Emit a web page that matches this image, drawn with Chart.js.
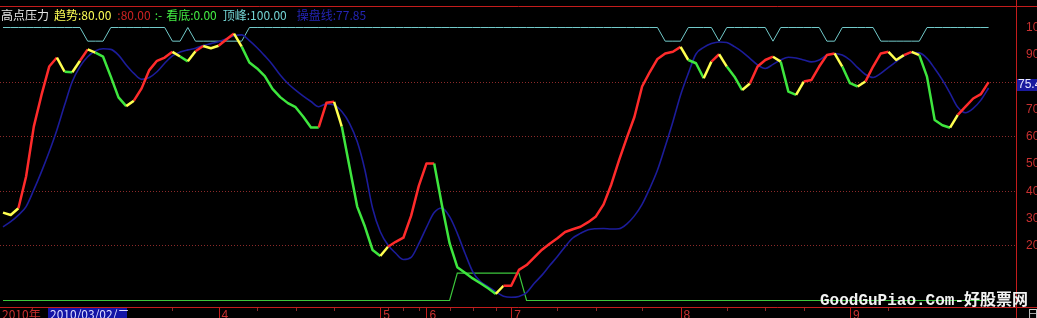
<!DOCTYPE html>
<html>
<head>
<meta charset="utf-8">
<script src="https://cdn.jsdelivr.net/npm/chart.js@4/dist/chart.umd.min.js"></script>
<style>
  html, body { margin: 0; padding: 0; background: #000; overflow: hidden; }
  canvas { display: block; }
</style>
</head>
<body>
<canvas id="gaodianChart" width="1037" height="318"></canvas>
<script>
// 趋势线 (每根K线一个值)
const trend = [
  32.2, 31.3, 33.8, 45.4, 63.7, 75.3, 85.7, 89.0, 83.8, 83.6,
  87.8, 92.0, 90.8, 89.3, 82.0, 74.4, 71.2, 73.2, 77.7, 84.4,
  87.8, 89.0, 91.1, 89.4, 87.6, 91.3, 93.2, 92.4, 93.3, 95.6,
  97.8, 93.0, 87.2, 85.0, 82.2, 77.5, 74.5, 72.3, 70.8, 67.3,
  63.4, 63.4, 72.4, 72.8, 63.7, 49.0, 34.4, 27.1, 18.5, 16.3,
  19.7, 21.5, 23.0, 31.0, 42.0, 50.2, 50.2, 35.0, 21.0, 12.2,
  10.2, 8.1, 6.3, 4.5, 2.4, 5.4, 5.4, 11.2, 13.0, 15.8,
  18.6, 20.8, 22.8, 25.1, 26.1, 27.0, 28.7, 30.8, 35.2, 42.5,
  51.3, 59.5, 67.2, 78.4, 83.7, 88.5, 90.5, 91.1, 92.9, 88.1,
  86.9, 81.4, 87.5, 90.2, 85.7, 82.0, 77.1, 79.5, 85.7, 88.1,
  89.3, 87.5, 76.5, 75.3, 80.2, 80.8, 85.7, 89.9, 90.5, 85.7,
  79.6, 78.4, 80.2, 85.7, 90.5, 91.1, 88.1, 89.9, 91.1, 89.9,
  82.0, 66.1, 64.2, 63.3, 68.0, 71.0, 74.0, 75.6, 80.0
];

// 操盘线
const caopan = [
  27.0, 28.9, 31.3, 34.4, 40.5, 47.2, 54.5, 62.5, 71.6, 80.2,
  85.7, 89.3, 91.4, 92.2, 92.0, 89.9, 86.3, 83.2, 81.0, 81.7,
  83.8, 86.9, 89.6, 91.0, 91.8, 92.4, 93.4, 94.1, 94.8, 95.9,
  97.0, 97.3, 95.2, 92.6, 89.6, 86.4, 82.6, 79.5, 77.1, 74.9,
  72.9, 71.0, 72.0, 71.6, 69.2, 64.9, 58.2, 47.8, 33.8, 25.2,
  20.3, 17.3, 15.0, 15.8, 20.8, 26.8, 32.2, 33.9, 30.7, 24.6,
  17.3, 10.6, 6.9, 5.1, 3.2, 1.6, 1.2, 1.5, 2.9, 6.3,
  9.3, 12.8, 16.1, 19.7, 22.9, 24.6, 25.9, 26.3, 26.4, 26.2,
  26.3, 28.0, 31.0, 35.2, 41.1, 47.8, 56.4, 65.5, 75.3, 83.2,
  90.3, 92.7, 94.1, 94.7, 94.5, 93.0, 91.1, 88.7, 86.3, 85.0,
  86.5, 88.1, 89.1, 88.8, 88.1, 87.4, 88.1, 89.9, 90.5, 89.9,
  88.1, 85.3, 82.8, 81.7, 83.2, 85.4, 87.5, 89.6, 90.8, 90.7,
  88.7, 85.0, 80.8, 75.9, 70.8, 68.8, 70.4, 73.4, 77.85
];

// 顶峰
const dingfeng = [
  100, 100, 100, 100, 100, 100, 100, 100, 100, 100,
  100, 95, 95, 95, 100, 100, 100, 100, 100, 100,
  100, 100, 95, 95, 100, 95, 95, 95, 95, 95,
  95, 95, 100, 100, 100, 100, 100, 100, 100, 100,
  100, 100, 100, 100, 100, 100, 100, 100, 100, 100,
  100, 100, 100, 100, 100, 100, 100, 100, 100, 100,
  100, 100, 100, 100, 100, 100, 100, 100, 100, 100,
  100, 100, 100, 100, 100, 100, 100, 100, 100, 100,
  100, 100, 100, 100, 100, 100, 95, 95, 95, 100,
  100, 100, 100, 95, 100, 100, 100, 100, 100, 100,
  95, 100, 100, 100, 100, 100, 100, 95, 95, 100,
  100, 100, 100, 100, 95, 95, 95, 95, 95, 95,
  100, 100, 100, 100, 100, 100, 100, 100, 100
];

// 看底
const kandi = [
  0, 0, 0, 0, 0, 0, 0, 0, 0, 0,
  0, 0, 0, 0, 0, 0, 0, 0, 0, 0,
  0, 0, 0, 0, 0, 0, 0, 0, 0, 0,
  0, 0, 0, 0, 0, 0, 0, 0, 0, 0,
  0, 0, 0, 0, 0, 0, 0, 0, 0, 0,
  0, 0, 0, 0, 0, 0, 0, 0, 0, 10,
  10, 10, 10, 10, 10, 10, 10, 10, 0, 0,
  0, 0, 0, 0, 0, 0, 0, 0, 0, 0,
  0, 0, 0, 0, 0, 0, 0, 0, 0, 0,
  0, 0, 0, 0, 0, 0, 0, 0, 0, 0,
  0, 0, 0, 0, 0, 0, 0, 0, 0, 0,
  0, 0, 0, 0, 0, 0, 0, 0, 0, 0,
  0, 0, 0, 0, 0, 0, 0, 0, 0
];

// 月份刻度 (K线序号) 和小刻度
const monthStart = [28, 49, 55, 66, 88, 110];
const monthLabels = ['4', '5', '6', '7', '8', '9'];
const minorTicks = [22, 33, 38, 43, 50, 52, 54, 58, 61, 64, 72, 77, 83, 94, 99, 104, 115];
const yLabels = [20, 30, 40, 50, 60, 70, 90, 100];
const gridLevels = [20, 40, 60, 80];
const cursorLabel = '75.4';
const cursorLevel = 79;

const RED = '#ff2b2b', GREEN = '#3ee63e', YELLOW = '#ffff50';
const FRAME = '#c41c1c';

// 颜色: 转折后第一段为黄色, 上升红, 下降绿
function trendColor(i0, i1) {
  if (i0 === 0) return YELLOW;
  const d = trend[i1] - trend[i0];
  const prev = trend[i0] - trend[i0 - 1];
  if ((d > 0 && prev < 0) || (d < 0 && prev > 0)) return YELLOW;
  if (d > 0) return RED;
  if (d < 0) return GREEN;
  return prev < 0 ? GREEN : RED;
}

const toPts = arr => arr.map((v, i) => ({ x: i, y: v }));

const decorPlugin = {
  id: 'decor',
  afterDraw(chart) {
    const { ctx, chartArea: a, scales } = chart;
    const xs = scales.x, ys = scales.y;
    ctx.save();

    // 边框
    ctx.strokeStyle = FRAME;
    ctx.lineWidth = 1;
    ctx.beginPath();
    ctx.moveTo(0, a.top + 0.5); ctx.lineTo(chart.width, a.top + 0.5);
    ctx.moveTo(0, a.bottom + 0.5); ctx.lineTo(chart.width, a.bottom + 0.5);
    ctx.moveTo(a.right + 0.5, 0); ctx.lineTo(a.right + 0.5, chart.height);
    // 月份刻度线 + 小刻度
    monthStart.forEach(v => {
      const px = Math.round(xs.getPixelForValue(v)) + 0.5;
      ctx.moveTo(px, a.bottom); ctx.lineTo(px, chart.height);
    });
    ctx.stroke();
    ctx.strokeStyle = '#8a2a2a';
    ctx.beginPath();
    minorTicks.forEach(v => {
      const px = Math.round(xs.getPixelForValue(v)) + 0.5;
      ctx.moveTo(px, a.bottom + 1); ctx.lineTo(px, a.bottom + 4);
    });
    ctx.stroke();

    // 顶部指标说明
    const parts = [
      ['高点压力', '#e6e6e6'],
      ['趋势:' + trend[trend.length - 1].toFixed(2), '#ffff55'],
      [':' + trend[trend.length - 1].toFixed(2), '#cc2222'],
      [':-', '#44ee44'],
      ['看底:' + kandi[kandi.length - 1].toFixed(2), '#44ee44'],
      ['顶峰:' + dingfeng[dingfeng.length - 1].toFixed(2), '#74d4d4'],
      ['操盘线:' + caopan[caopan.length - 1].toFixed(2), '#2424b4']
    ];
    const gaps = [5, 6, 4, 4, 6, 10];
    ctx.font = '12px "Noto Sans CJK SC"';
    ctx.textBaseline = 'middle';
    ctx.textAlign = 'left';
    let tx = 1;
    parts.forEach(([t, c], k) => {
      ctx.fillStyle = c;
      ctx.fillText(t, tx, 15);
      tx += ctx.measureText(t).width + (gaps[k] || 0);
    });

    // 底部日期
    ctx.textBaseline = 'top';
    ctx.font = '12px "Noto Sans CJK SC"';
    ctx.fillStyle = '#c83030';
    ctx.fillText('2010年', 2, a.bottom + 1);
    ctx.fillStyle = '#1414a6';
    ctx.fillRect(48, a.bottom + 1, 79, chart.height - a.bottom - 1);
    ctx.fillStyle = '#dcdcff';
    ctx.fillText('2010/03/02/二', 50, a.bottom + 1);
    ctx.fillStyle = '#cfcfcf';
    ctx.fillText('日', a.right + 11, a.bottom + 1);

    // 右侧数值框
    const cy = Math.round(ys.getPixelForValue(cursorLevel));
    ctx.fillStyle = '#1a1a9e';
    ctx.fillRect(a.right + 1, cy - 6, chart.width - a.right - 1, 12);
    ctx.fillStyle = '#e8e8ff';
    ctx.font = '12px "Liberation Sans"';
    ctx.textBaseline = 'middle';
    ctx.fillText(cursorLabel, a.right + 2, cy);

    // 水印
    ctx.font = 'bold 16px "Liberation Mono", "Noto Sans CJK SC"';
    ctx.textBaseline = 'alphabetic';
    ctx.fillStyle = '#f2f2f2';
    ctx.fillText('GoodGuPiao.Com-好股票网', 820, 305);
    ctx.restore();
  }
};

new Chart(document.getElementById('gaodianChart'), {
  type: 'line',
  data: {
    datasets: [
      {
        label: '趋势',
        data: toPts(trend),
        borderWidth: 2.5,
        borderColor: RED,
        borderJoinStyle: 'round',
        pointRadius: 0,
        tension: 0,
        order: 1,
        segment: { borderColor: c => trendColor(c.p0DataIndex, c.p1DataIndex) }
      },
      {
        label: '操盘线',
        data: toPts(caopan),
        borderWidth: 1.6,
        borderColor: '#1c1c9a',
        pointRadius: 0,
        cubicInterpolationMode: 'monotone',
        order: 2
      },
      {
        label: '顶峰',
        data: toPts(dingfeng),
        borderWidth: 1,
        borderColor: '#72caca',
        pointRadius: 0,
        tension: 0,
        order: 3
      },
      {
        label: '看底',
        data: toPts(kandi),
        borderWidth: 1.2,
        borderColor: '#3cc83c',
        pointRadius: 0,
        tension: 0,
        order: 4
      }
    ]
  },
  options: {
    responsive: false,
    animation: false,
    devicePixelRatio: 1,
    layout: { padding: { top: 6, left: 0, right: 0, bottom: 0 } },
    plugins: { legend: { display: false }, tooltip: { enabled: false } },
    scales: {
      x: {
        type: 'linear',
        min: -0.39,
        max: 131.56,
        afterBuildTicks: s => { s.ticks = monthStart.map(v => ({ value: v })); },
        afterFit: s => { s.height = 11; s.paddingLeft = 0; s.paddingRight = 0; },
        grid: { display: false, drawTicks: false },
        border: { display: false },
        ticks: {
          autoSkip: false,
          maxRotation: 0,
          align: 'start',
          labelOffset: 3,
          padding: 1,
          color: '#c83030',
          font: { family: 'Liberation Sans', size: 12 },
          callback: v => { const k = monthStart.indexOf(v); return k >= 0 ? monthLabels[k] : ''; }
        }
      },
      y: {
        position: 'right',
        min: -2.38,
        max: 107.88,
        afterFit: s => { s.width = 21; s.paddingTop = 0; s.paddingBottom = 0; },
        grid: {
          drawTicks: false,
          lineWidth: 1,
          color: c => gridLevels.includes(c.tick && c.tick.value) ? '#8c2a2a' : 'transparent'
        },
        border: { display: false, dash: [1, 2] },
        ticks: {
          stepSize: 10,
          includeBounds: false,
          autoSkip: false,
          padding: 10,
          color: '#c83030',
          font: { family: 'Liberation Sans', size: 12 },
          callback: v => yLabels.includes(v) ? String(v) : ''
        }
      }
    }
  },
  plugins: [decorPlugin]
});
</script>
</body>
</html>
